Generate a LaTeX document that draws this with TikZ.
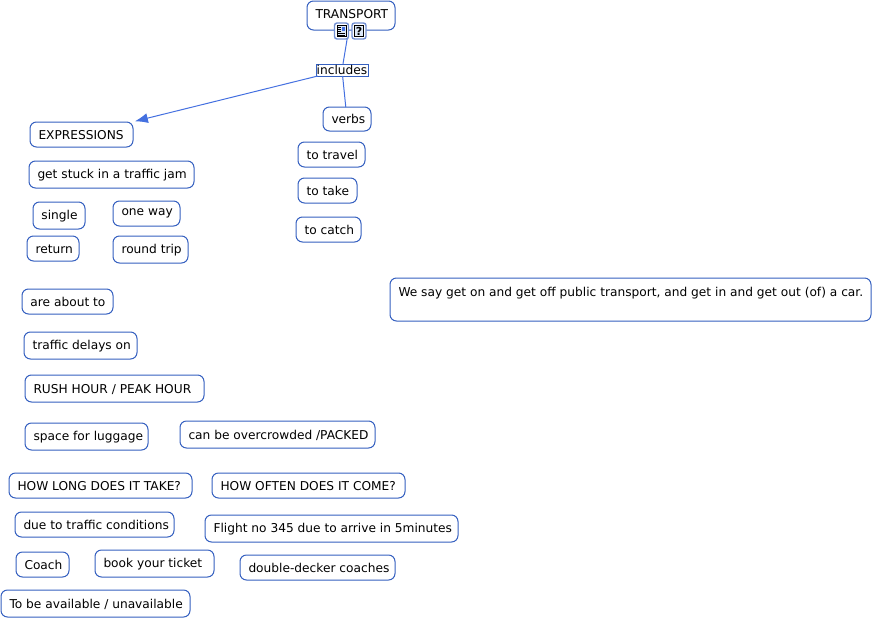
\documentclass[tikz,border=0pt]{standalone}
\usepackage{fontspec}
\setmainfont{DejaVu Sans}
\usetikzlibrary{arrows.meta}
\definecolor{edgeblue}{HTML}{3560C0}
\definecolor{linkblue}{HTML}{4470E0}
\definecolor{iconfill}{HTML}{DCE8F8}
\tikzset{
  box/.style={draw=edgeblue,line width=1pt,rounded corners=6.5pt,fill=white,inner sep=0pt,outer sep=0pt},
  linkbox/.style={draw=edgeblue,line width=0.9pt,fill=white,inner sep=0pt,outer sep=0pt},
  link/.style={draw=linkblue,line width=1pt},
  iconbox/.style={draw=edgeblue!70,line width=1.4pt,rounded corners=2.5pt,fill=white,inner sep=0pt,outer sep=0pt,minimum width=14pt,minimum height=16pt},
}
\newcommand{\bx}[7]{%
  \pgfmathsetlengthmacro{\bw}{(#4-#2)*1pt}%
  \pgfmathsetlengthmacro{\bh}{(#5-#3)*1pt}%
  \pgfmathsetlengthmacro{\tw}{(#4-#2-17)*1pt}%
  \pgfmathsetlengthmacro{\rs}{(((#3+#5)/2)-(#6+4.5))*1pt}%
  \pgfmathsetmacro{\cx}{(#2+#4)/2}%
  \pgfmathsetmacro{\cy}{(#3+#5)/2}%
  \node[box,minimum width=\bw,minimum height=\bh] (#1) at (\cx,\cy)
    {\makebox[\tw][l]{\raisebox{\rs}[0pt][0pt]{#7}}};%
}
\begin{document}
\begin{tikzpicture}[x=1pt,y=-1pt,font=\fontsize{12.2pt}{14pt}\selectfont]
\useasboundingbox (0,0) rectangle (873,619);
\bx{transport}{307}{1}{395}{30}{14}{TRANSPORT}
\bx{verbs}{323}{107}{371}{131}{119}{verbs}
\bx{expr}{30}{122}{133}{147}{135}{EXPRESSIONS}
\bx{stuck}{29}{161}{194}{188}{174}{get stuck in a traffic jam}
\bx{single}{33}{202}{85}{229}{215}{single}
\bx{oneway}{113}{201}{180}{226}{211}{one way}
\bx{return}{27}{236}{79}{261}{249}{return}
\bx{round}{113}{236}{188}{263}{249}{round trip}
\bx{travel}{298}{142}{365}{167}{155}{to travel}
\bx{take}{298}{178}{357}{203}{191}{to take}
\bx{catch}{296}{217}{361}{242}{230}{to catch}
\bx{about}{22}{289}{113}{314}{302}{are about to}
\bx{delays}{24}{332}{137}{359}{345}{traffic delays on}
\bx{rush}{25}{375}{204}{402}{389}{RUSH HOUR / PEAK HOUR}
\bx{space}{25}{423}{148}{450}{436}{space for luggage}
\bx{crowded}{180}{421}{375}{448}{435}{can be overcrowded /PACKED}
\bx{long}{9}{473}{192}{498}{486}{HOW LONG DOES IT TAKE?}
\bx{often}{212}{473}{405}{498}{486}{HOW OFTEN DOES IT COME?}
\bx{due}{15}{512}{174}{537}{525}{due to traffic conditions}
\bx{flight}{205}{515}{458}{542}{528}{Flight no 345 due to arrive in 5minutes}
\bx{coach}{16}{552}{69}{577}{565}{Coach}
\bx{book}{95}{550}{214}{577}{563}{book your ticket}
\bx{decker}{240}{555}{395}{580}{568}{double-decker coaches}
\bx{avail}{1}{590}{190}{617}{604}{To be available / unavailable}
\bx{note}{390}{278}{871}{321}{292}{We say get on and get off public transport, and get in and get out (of) a car.}
\node[linkbox,minimum width=52pt,minimum height=12pt] (incl) at (342,70) {\raisebox{-4.5pt}[0pt][0pt]{includes}};
\draw[link] (transport) -- (incl);
\draw[link] (incl) -- (verbs);
\draw[link,-{Latex[length=13pt,width=10pt]},shorten >=3pt] (incl) -- (expr);
\node[iconbox] (iconA) at (341.5,31) {};
\node[iconbox] (iconB) at (359,31) {};
\fill[iconfill] (337,25.5) rectangle (346,36.5);
\draw[black,line width=0.6pt] (337,25.5) rectangle (346,36.5);
\fill[linkblue] (341.7,26.5) rectangle (345,30.5);
\foreach \yy in {27.5,29.5,31.5} \draw[black,line width=0.5pt] (338,\yy) -- (341,\yy);
\foreach \yy in {33.5,35} \draw[black,line width=0.5pt] (338,\yy) -- (345,\yy);
\draw[black,line width=0.6pt,fill=iconfill] (354.5,25.5) rectangle (363.5,36.5);
\node[inner sep=0pt,font=\fontsize{11pt}{11pt}\selectfont\bfseries] (qmark) at (359,31) {?};
\end{tikzpicture}
\end{document}
